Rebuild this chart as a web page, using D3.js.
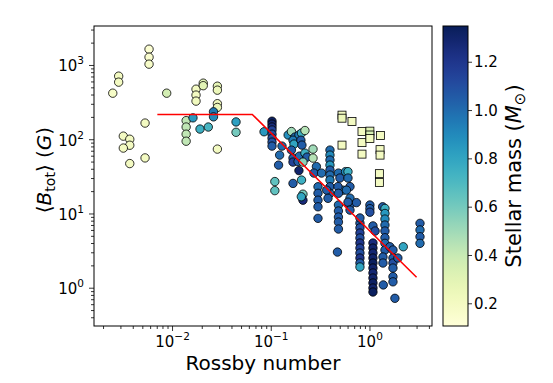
<!DOCTYPE html>
<html>
<head>
<meta charset="utf-8">
<script src="https://cdn.jsdelivr.net/npm/d3@7"></script>
<style>
  body { margin: 0; background: #fff; }
  svg { display: block; }
  text { font-family: "DejaVu Sans", sans-serif; }
</style>
</head>
<body>
<svg id="chart" width="553" height="383"></svg>
<script>
// ---------------- DATA ----------------
// [Rossby number, <B_tot> (G), stellar mass (M_sun)]
const saturatedStars = [
  [0.00251,417,0.18],[0.00288,707,0.2],[0.00288,587,0.2],[0.00585,1632,0.13],[0.00585,1274,0.15],
  [0.00585,1026,0.17],[0.00883,417,0.36],[0.00533,165,0.2],[0.00321,110,0.2],[0.00373,100,0.2],
  [0.00373,83,0.2],[0.00321,76,0.2],[0.00373,47,0.2],[0.00533,56,0.2],[0.0139,178,0.42],
  [0.0139,146,0.42],[0.0139,117,0.42],[0.0139,94,0.42],[0.0163,194,0.85],[0.0175,472,0.2],
  [0.0175,393,0.2],[0.0175,326,0.22],[0.0207,569,0.3],[0.0207,526,0.3],[0.0192,137,0.75],
  [0.0233,146,0.72],[0.0288,518,0.28],[0.0288,458,0.25],[0.0288,301,0.22],[0.0288,268,0.25],
  [0.0263,234,0.95],[0.0263,200,0.9],[0.0288,73.6,0.2],[0.0445,171,0.82],[0.0445,124,0.6],
  [0.0855,126,0.85]
];
const unsaturatedStars = [
  [0.103,175,1.32],[0.103,160,1.3],[0.103,146,1.25],[0.103,133,1.15],[0.103,117,1.1],
  [0.103,103.5,1.1],[0.103,91.4,1.08],[0.103,80.8,1.05],
  [0.130,80.8,1.0],[0.123,61.1,1.0],[0.120,44.8,1.05],[0.150,114,0.88],[0.162,127,0.5],
  [0.176,107,1.0],[0.193,114,0.95],[0.205,121,0.75],[0.222,131,0.45],[0.168,97,0.95],
  [0.172,86,0.8],[0.202,97,1.05],[0.207,83.3,1.05],[0.162,71.4,1.05],[0.168,55.7,1.05],
  [0.168,49.2,1.15],[0.189,50,1.05],[0.195,59.2,1.0],[0.222,65,0.75],[0.233,57.4,1.05],
  [0.212,49.2,0.55],[0.268,55.7,0.45],[0.268,73.6,0.5],[0.193,37.8,1.3],[0.290,42.8,1.0],
  [0.274,35,1.05],[0.327,35,1.0],
  [0.398,71.4,1.0],[0.398,61.1,0.9],[0.398,52.4,1.0],[0.398,44.8,0.85],[0.398,38.4,1.05],
  [0.398,32.9,1.0],[0.398,28.2,0.95],[0.398,22.9,1.05],[0.398,18.7,1.0],
  [0.485,35,1.0],[0.502,30,1.05],[0.572,36.6,0.9],[0.606,36.6,0.75],[0.606,30,1.0],
  [0.635,23,1.05],[0.539,20.6,0.95],[0.480,23,1.05],[0.585,20.6,1.0],[0.635,16.1,1.0],
  [0.635,13,1.05],[0.738,14,1.05],[0.606,14.2,1.05],
  [0.110,26.9,0.65],[0.110,20.3,0.65],[0.168,25.4,1.05],[0.205,28.2,0.75],[0.212,18.2,0.6],
  [0.212,15.1,1.25],[0.204,16.8,0.8],
  [0.301,22.9,1.0],[0.301,18.7,1.05],[0.301,15.1,1.05],[0.301,12.3,1.05],[0.301,8.6,1.05],
  [0.369,20.6,1.05],[0.380,16,1.05],
  [0.485,18.7,1.05],[0.485,13,1.0],[0.485,10.8,1.05],[0.485,8.95,1.05],[0.485,7.66,1.05],
  [0.485,6.17,1.05],[0.474,3.02,1.05],
  [0.801,7.4,1.05],[0.801,6.4,1.1],[0.801,5.45,1.15],[0.801,4.67,1.1],[0.801,4.0,1.2],
  [0.801,3.42,1.15],[0.801,2.93,1.1],[0.801,2.51,1.2],[0.801,2.15,1.05],[0.801,1.90,0.8],
  [0.635,11.1,1.05],[0.801,8.7,1.05],
  [1.01,13,1.05],[1.01,11.6,1.05],[1.01,10.4,1.1],[1.085,6.8,1.05],[1.14,5.8,1.1],
  [1.085,4.0,1.25],[1.085,3.42,1.3],[1.085,2.93,1.28],[1.085,2.51,1.3],[1.085,2.15,1.33],
  [1.085,1.84,1.3],[1.085,1.58,1.28],[1.085,1.35,1.3],[1.085,1.16,1.32],[1.085,0.99,1.3],
  [1.085,0.875,1.33],
  [1.36,12.3,1.05],[1.435,11.7,0.75],[1.435,10,0.85],[1.435,8.4,0.9],[1.435,6.98,1.0],
  [1.435,5.8,1.05],[1.435,4.71,1.05],[1.435,3.96,1.0],[1.435,3.22,1.05],[1.37,2.59,1.05],
  [1.37,2.15,1.05],[1.38,1.09,1.05],[1.61,3.56,1.05],
  [1.73,3.22,1.05],[1.73,2.51,1.05],[1.73,2.15,1.1],[1.73,1.84,1.05],[1.73,1.41,1.05],
  [1.73,1.2,1.05],[1.81,0.72,1.05],[2.20,3.56,0.8],[1.94,2.51,1.05],
  [3.25,7.36,1.05],[3.25,6.0,1.0],[3.25,4.86,1.05],[3.25,3.96,1.0]
];
const squareStars = [
  [0.527,211,0.2],[0.527,192,0.25],[0.665,173,0.2],[0.527,83.3,0.2],[0.840,127,0.2],
  [0.840,90,0.2],[0.840,63,0.2],[1.01,128.5,0.32],[1.01,114,0.35],[1.01,102,0.2],
  [1.29,112,0.2],[1.28,72.4,0.2],[1.28,61.1,0.2],[1.26,34.4,0.2],[1.26,26.1,0.2]
];
// saturation / power-law relation (red line)
const relationRo = [0.0071, 0.065, 3.0];
const relationB  = [216, 216, 1.38];

const rossbyDomain = [0.00162, 4.3];
const fieldDomain = [0.305, 3350];
const massDomain = [0.106, 1.348];
const xMajorTicks = [0.01, 0.1, 1];
const yMajorTicks = [1, 10, 100, 1000];
const colorbarTicks = [0.2, 0.4, 0.6, 0.8, 1.0, 1.2];

// ---------------- LAYOUT ----------------
const plot = { left: 94, right: 432, top: 26, bottom: 326 };
const cbar = { left: 443, right: 468 };

const svg = d3.select("#chart");
const x = d3.scaleLog().domain(rossbyDomain).range([plot.left, plot.right]);
const y = d3.scaleLog().domain(fieldDomain).range([plot.bottom, plot.top]);
const color = d3.scaleSequential(d3.interpolateYlGnBu).domain(massDomain);

function minorTicks(domain) {
  const out = [];
  const e0 = Math.floor(Math.log10(domain[0])), e1 = Math.ceil(Math.log10(domain[1]));
  for (let e = e0; e <= e1; e++) for (let s = 2; s <= 9; s++) {
    const v = s * Math.pow(10, e);
    if (v >= domain[0] && v <= domain[1]) out.push(v);
  }
  return out;
}
const expLabel = d => { const e = Math.round(Math.log10(d)); return (e < 0 ? "\u2212" : "") + Math.abs(e); };

svg.append("defs").append("clipPath").attr("id", "clip")
  .append("rect").attr("x", plot.left).attr("y", plot.top)
  .attr("width", plot.right - plot.left).attr("height", plot.bottom - plot.top);

// ---------------- MARKS ----------------
const marks = svg.append("g").attr("clip-path", "url(#clip)");
marks.selectAll("circle.sat").data(saturatedStars.concat(unsaturatedStars)).join("circle")
  .attr("cx", d => x(d[0])).attr("cy", d => y(d[1])).attr("r", 4.2)
  .attr("fill", d => color(d[2])).attr("stroke", "#000").attr("stroke-width", 0.8);
marks.selectAll("rect.sq").data(squareStars).join("rect")
  .attr("x", d => x(d[0]) - 4).attr("y", d => y(d[1]) - 4).attr("width", 8).attr("height", 8)
  .attr("fill", d => color(d[2])).attr("stroke", "#000").attr("stroke-width", 0.8);
marks.append("path")
  .datum(relationRo.map((r, i) => [r, relationB[i]]))
  .attr("d", d3.line().x(d => x(d[0])).y(d => y(d[1])))
  .attr("fill", "none").attr("stroke", "#ff0000").attr("stroke-width", 1.5);

// ---------------- AXES ----------------
function styleAxis(g) {
  g.attr("font-family", null).attr("font-size", null);
  g.select(".domain").remove();
  g.selectAll(".tick line").attr("stroke", "#000").attr("stroke-width", 0.8);
}
svg.append("g").attr("transform", `translate(0,${plot.bottom})`)
  .call(d3.axisBottom(x).tickValues(minorTicks(rossbyDomain)).tickSize(3).tickFormat(""))
  .call(styleAxis).selectAll("text").remove();
const gx = svg.append("g").attr("transform", `translate(0,${plot.bottom})`)
  .call(d3.axisBottom(x).tickValues(xMajorTicks).tickSize(5).tickFormat(""))
  .call(styleAxis);
gx.selectAll(".tick text").each(function(d) {
  const t = d3.select(this).text(null).attr("y", 20.7).attr("dy", null)
    .attr("fill", "#000").attr("font-size", 15).attr("text-anchor", "middle");
  t.append("tspan").text("10");
  t.append("tspan").attr("dy", -7).attr("font-size", 10.5).text(expLabel(d));
});

svg.append("g").attr("transform", `translate(${plot.left},0)`)
  .call(d3.axisLeft(y).tickValues(minorTicks(fieldDomain)).tickSize(3).tickFormat(""))
  .call(styleAxis).selectAll("text").remove();
const gy = svg.append("g").attr("transform", `translate(${plot.left},0)`)
  .call(d3.axisLeft(y).tickValues(yMajorTicks).tickSize(5).tickFormat(""))
  .call(styleAxis);
gy.selectAll(".tick text").each(function(d) {
  const t = d3.select(this).text(null).attr("x", -10).attr("y", 6).attr("dy", null)
    .attr("fill", "#000").attr("font-size", 15).attr("text-anchor", "end");
  t.append("tspan").text("10");
  t.append("tspan").attr("dy", -7).attr("font-size", 10.5).text(expLabel(d));
});

svg.append("rect").attr("x", plot.left).attr("y", plot.top)
  .attr("width", plot.right - plot.left).attr("height", plot.bottom - plot.top)
  .attr("fill", "none").attr("stroke", "#000").attr("stroke-width", 1);

// axis labels
svg.append("text").attr("x", (plot.left + plot.right) / 2).attr("y", 370)
  .attr("text-anchor", "middle").attr("font-size", 20).text("Rossby number");

const yl = svg.append("text").attr("transform", `translate(51,170) rotate(-90)`)
  .attr("text-anchor", "middle").attr("font-size", 20);
yl.append("tspan").text("\u27E8");
yl.append("tspan").attr("font-style", "italic").text("B");
yl.append("tspan").attr("font-size", 14).attr("dy", 4).text("tot");
yl.append("tspan").attr("dy", -4).text("\u27E9 (");
yl.append("tspan").attr("font-style", "italic").text("G");
yl.append("tspan").text(")");

// ---------------- COLORBAR ----------------
const cy = d3.scaleLinear().domain(massDomain).range([plot.bottom, plot.top]);
const grad = svg.select("defs").append("linearGradient").attr("id", "cbgrad")
  .attr("x1", 0).attr("y1", 1).attr("x2", 0).attr("y2", 0);
d3.range(0, 1.0001, 0.02).forEach(t => {
  grad.append("stop").attr("offset", t).attr("stop-color", d3.interpolateYlGnBu(t));
});
svg.append("rect").attr("x", cbar.left).attr("y", plot.top)
  .attr("width", cbar.right - cbar.left).attr("height", plot.bottom - plot.top)
  .attr("fill", "url(#cbgrad)").attr("stroke", "#000").attr("stroke-width", 1);
const gc = svg.append("g").attr("transform", `translate(${cbar.right},0)`)
  .call(d3.axisRight(cy).tickValues(colorbarTicks).tickSize(4).tickPadding(2).tickFormat(d3.format(".1f")))
  .call(styleAxis);
gc.selectAll(".tick text").attr("font-size", 15).attr("fill", "#000").attr("dy", "0.35em");

const cl = svg.append("text").attr("transform", `translate(521,176) rotate(-90)`)
  .attr("text-anchor", "middle").attr("font-size", 21);
cl.append("tspan").text("Stellar mass (");
cl.append("tspan").attr("font-style", "italic").text("M");
cl.append("tspan").attr("font-size", 15).attr("dy", 4).text("\u2299");
cl.append("tspan").attr("dy", -4).text(")");
</script>
</body>
</html>
